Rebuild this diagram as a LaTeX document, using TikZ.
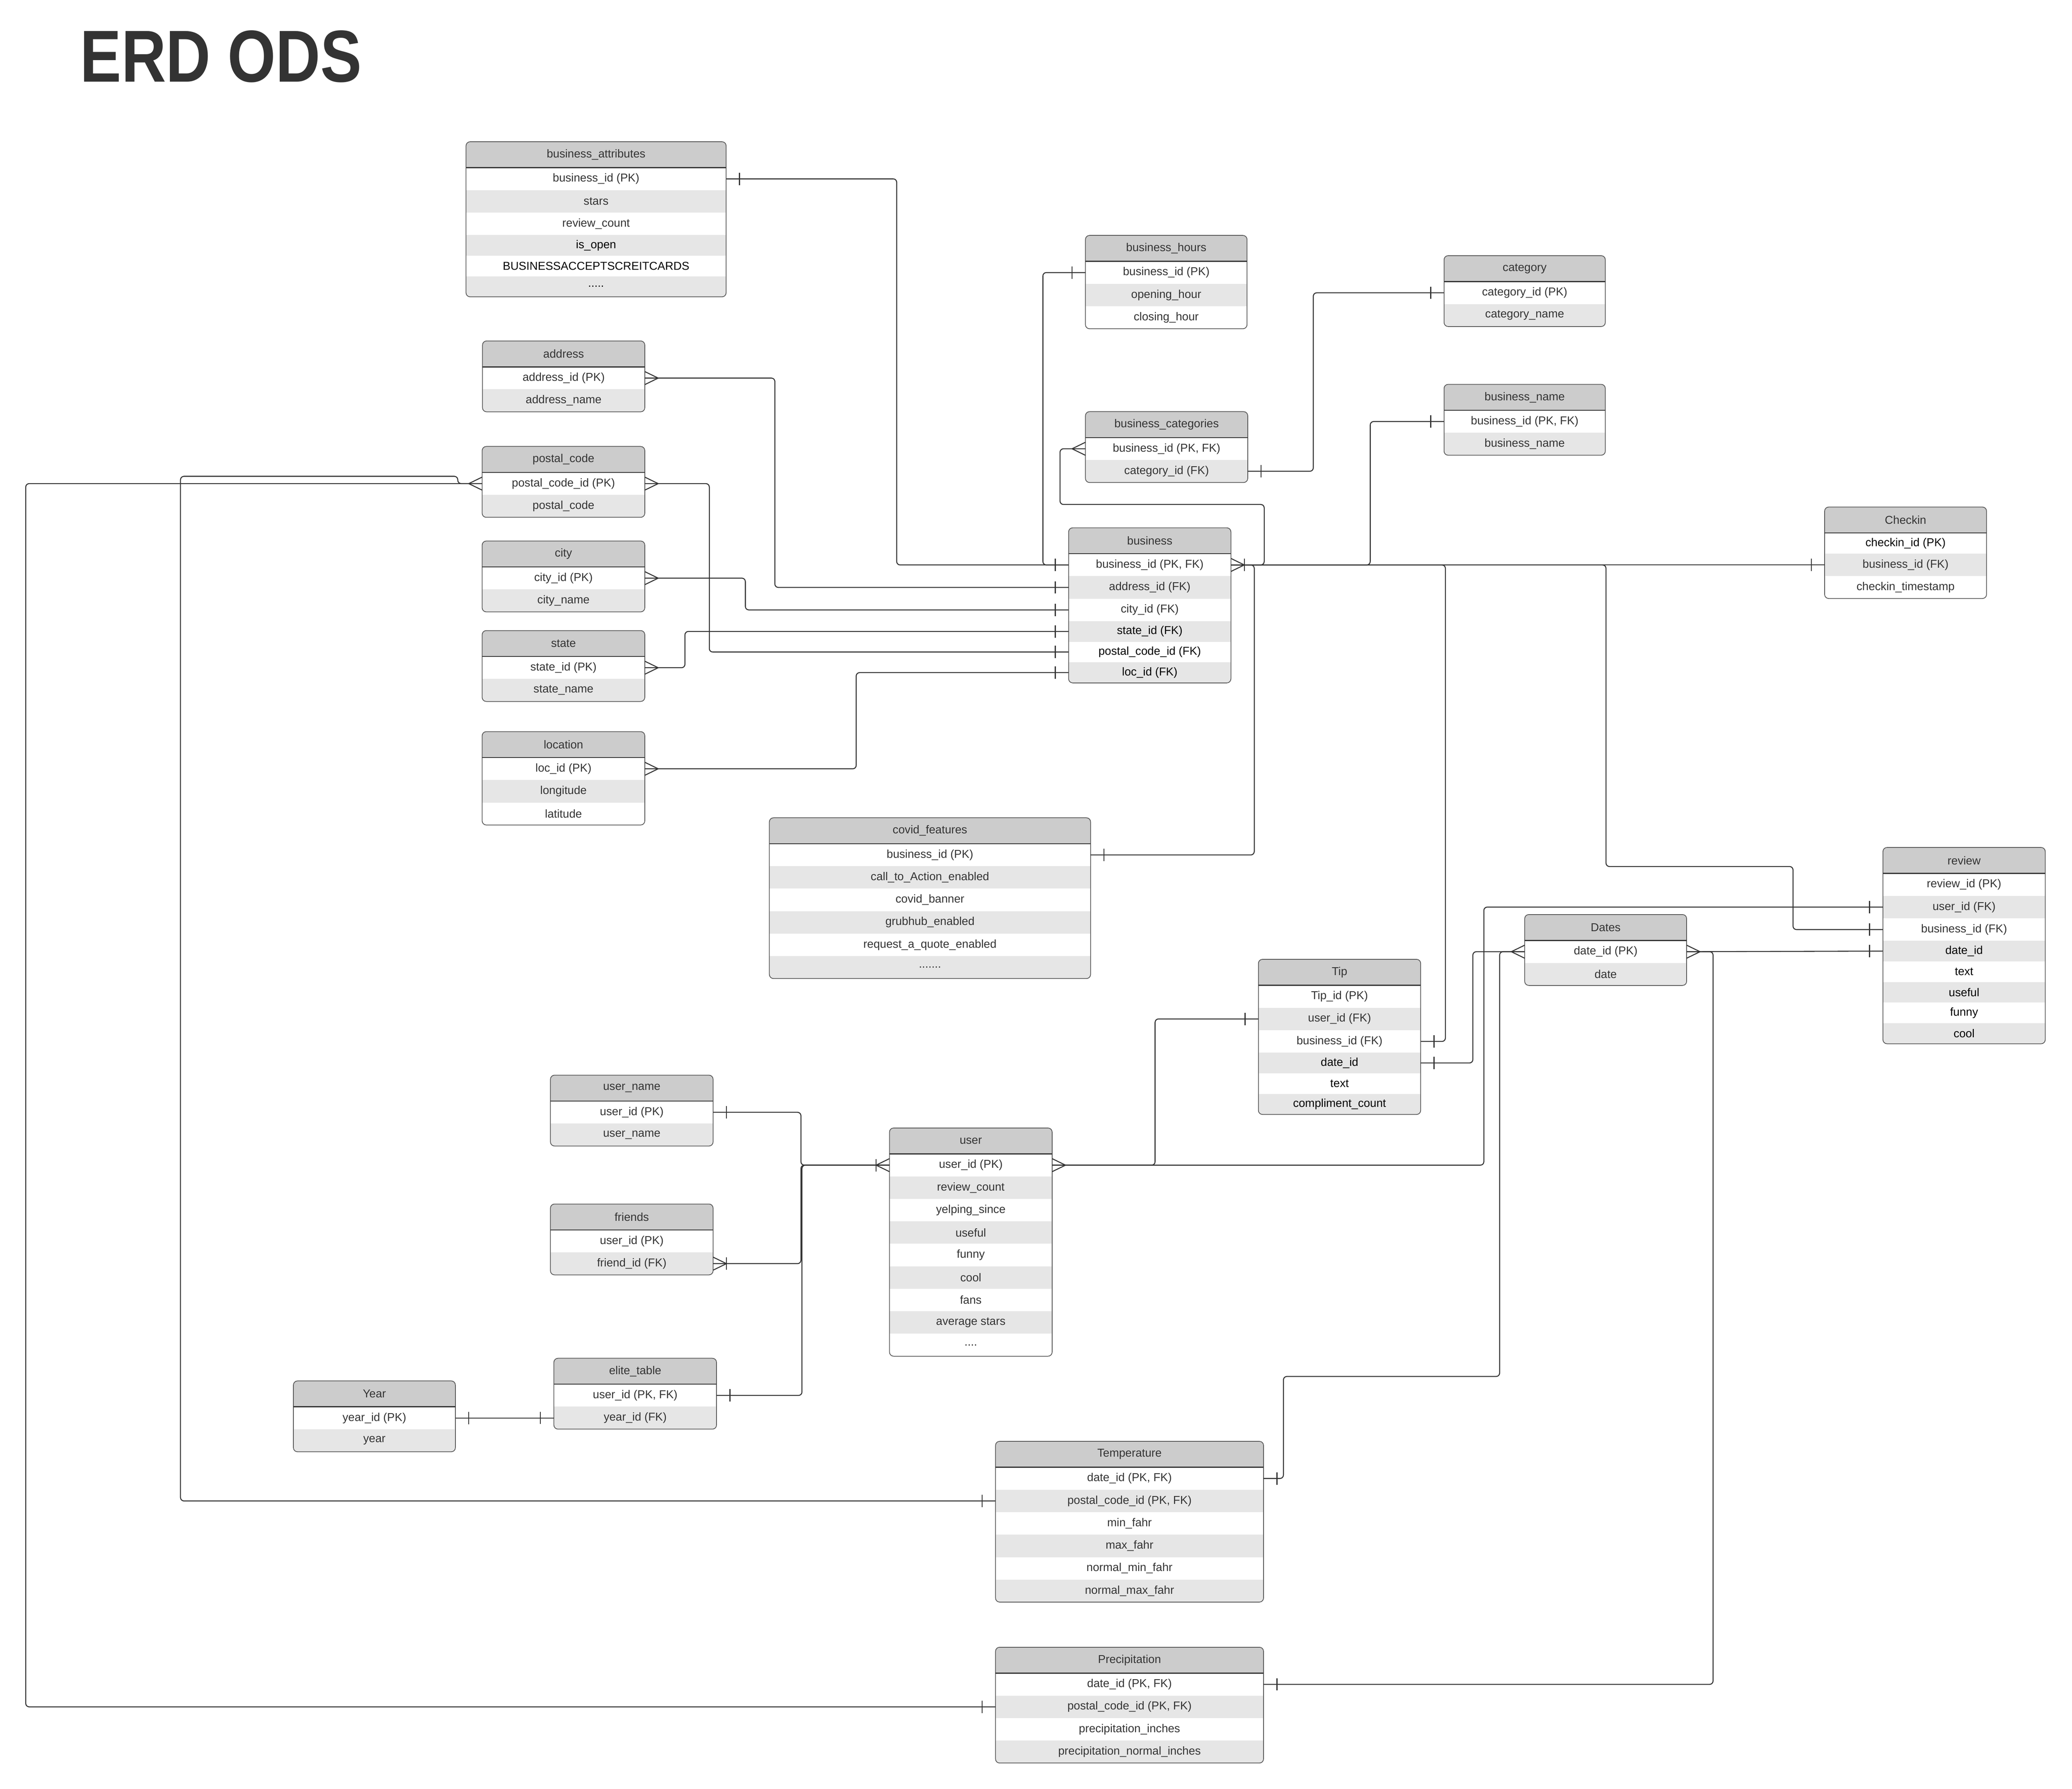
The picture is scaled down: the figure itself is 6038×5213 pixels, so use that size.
\documentclass[tikz,border=0pt]{standalone}
\usepackage{fontspec}
\setmainfont{Liberation Sans}
\usetikzlibrary{positioning}
\usetikzlibrary{calc}
\definecolor{headgray}{HTML}{CCCCCC}
\definecolor{rowgray}{HTML}{E6E6E6}
\definecolor{inkgray}{HTML}{333333}
\definecolor{framegray}{HTML}{555555}
\pgfdeclarelayer{tablefill}
\pgfsetlayers{tablefill,main}
\def\px{0.1mm}
\newcommand{\fourdots}{....}
\newcommand{\fivedots}{.....}
\newcommand{\sevendots}{.......}
\tikzset{
	erdhead/.style={anchor=north west, minimum width=#1*\px, minimum height=7.55mm, inner sep=0pt, outer sep=0pt, text=inkgray, font=\fontsize{9.5}{11}\selectfont},
	erdrow/.style={minimum width=#1*\px, minimum height=\rowh, inner sep=0pt, outer sep=0pt, text=\rowc, font=\fontsize{9.5}{11}\selectfont},
	erdframe/.style={draw=framegray, line width=0.6pt, rounded corners=1.2mm},
	erdsep/.style={draw=inkgray, line width=0.9pt},
	erdline/.style={draw=inkgray, line width=0.8pt, rounded corners=1mm},
	erdmark/.style={draw=inkgray, line width=0.8pt},
}
\newcommand{\erdtable}[6]{%
	\node[erdhead=#4] (#1) at (#2,#3) {#5};
	\foreach \txt/\kind [count=\i, remember=\i as \j (initially 0)] in {#6}{
		\if k\kind\def\rowh{6mm}\def\rowc{black}\else\def\rowh{6.55mm}\def\rowc{inkgray}\fi
		\ifnum\j=0\def\prev{#1}\else\def\prev{#1-\j}\fi
		\node[erdrow=#4, below=0pt of \prev] (#1-\i) {\txt};
		\xdef\lastrow{\i}
	}
	\begin{pgfonlayer}{tablefill}
		\begin{scope}
			\clip[rounded corners=1.2mm] (#1.north west) rectangle (#1-\lastrow.south east);
			\fill[headgray] (#1.north west) rectangle (#1.south east);
			\foreach \i in {1,...,\lastrow}{
				\ifodd\i\else\fill[rowgray] (#1-\i.north west) rectangle (#1-\i.south east);\fi
			}
		\end{scope}
	\end{pgfonlayer}
	\draw[erdframe] (#1.north west) rectangle (#1-\lastrow.south east);
	\draw[erdsep] (#1.south west) -- (#1.south east);
}
\newcommand{\cardone}[2]{\draw[erdmark] ($(#1)+({#2*39},-18)$) -- ($(#1)+({#2*39},18)$);}
\newcommand{\cardmany}[2]{\draw[erdmark] ($(#1)+(0,-19)$) -- ($(#1)+({#2*39},0)$) -- ($(#1)+(0,19)$);}
\begin{document}
\begin{tikzpicture}[x=\px, y=-\px]
	\begin{pgfonlayer}{tablefill}
		\fill[white] (0,0) rectangle (6038,5213);
	\end{pgfonlayer}
	\useasboundingbox (0,0) rectangle (6038,5213);
	\node[anchor=base, text=inkgray, font=\fontsize{61}{70}\selectfont\bfseries] (title) at (644,239) {\scalebox{0.84}[1]{ERD ODS}};

	\erdtable{batt}{1358}{413}{758}{business\_attributes}{business\_id (PK)/r, stars/r, review\_count/r, is\_open/k, BUSINESSACCEPTSCREITCARDS/k, \fivedots/k}
	\erdtable{addr}{1406}{993.5}{473}{address}{address\_id (PK)/r, address\_name/r}
	\erdtable{postal}{1405}{1301}{474}{postal\_code}{postal\_code\_id (PK)/r, postal\_code/r}
	\erdtable{city}{1405}{1576.5}{474}{city}{city\_id (PK)/r, city\_name/r}
	\erdtable{state}{1405}{1837.5}{474}{state}{state\_id (PK)/r, state\_name/r}
	\erdtable{loc}{1405}{2132}{474}{location}{loc\_id (PK)/r, longitude/r, latitude/r}
	\erdtable{bhours}{3163}{686}{471}{business\_hours}{business\_id (PK)/r, opening\_hour/r, closing\_hour/r}
	\erdtable{bcat}{3163}{1199.5}{473}{business\_categories}{{business\_id (PK, FK)}/r, category\_id (FK)/r}
	\erdtable{cat}{4208}{745}{470}{category}{category\_id (PK)/r, category\_name/r}
	\erdtable{bname}{4208}{1120}{470}{business\_name}{{business\_id (PK, FK)}/r, business\_name/r}
	\erdtable{bus}{3114}{1538}{473}{business}{{business\_id (PK, FK)}/r, address\_id (FK)/r, city\_id (FK)/r, state\_id (FK)/k, postal\_code\_id (FK)/k, loc\_id (FK)/k}
	\erdtable{checkin}{5317}{1477.5}{472}{Checkin}{checkin\_id (PK)/k, business\_id (FK)/r, checkin\_timestamp/r}
	\erdtable{covid}{2242}{2383}{936}{covid\_features}{business\_id (PK)/r, call\_to\_Action\_enabled/r, covid\_banner/r, grubhub\_enabled/r, request\_a\_quote\_enabled/r, \sevendots/r}
	\erdtable{review}{5487}{2469.5}{473}{review}{review\_id (PK)/r, user\_id (FK)/r, business\_id (FK)/r, date\_id/k, text/k, useful/k, funny/k, cool/k}
	\erdtable{dates}{4443}{2665}{472}{Dates}{date\_id (PK)/r, date/r}
	\erdtable{tip}{3667}{2795.5}{473}{Tip}{Tip\_id (PK)/r, user\_id (FK)/r, business\_id (FK)/r, date\_id/k, text/k, compliment\_count/k}
	\erdtable{uname}{1604}{3133}{474}{user\_name}{user\_id (PK)/r, user\_name/r}
	\erdtable{friends}{1604}{3508.5}{474}{friends}{user\_id (PK)/r, friend\_id (FK)/r}
	\erdtable{user}{2592}{3287}{474}{user}{user\_id (PK)/r, review\_count/r, yelping\_since/r, useful/r, funny/r, cool/r, fans/r, average stars/r, \fourdots/r}
	\erdtable{elite}{1614}{3958}{474}{elite\_table}{{user\_id (PK, FK)}/r, year\_id (FK)/r}
	\erdtable{year}{855}{4024}{472}{Year}{year\_id (PK)/r, year/r}
	\erdtable{temp}{2901}{4200}{781}{Temperature}{{date\_id (PK, FK)}/r, {postal\_code\_id (PK, FK)}/r, min\_fahr/r, max\_fahr/r, normal\_min\_fahr/r, normal\_max\_fahr/r}
	\erdtable{precip}{2901}{4800}{781}{Precipitation}{{date\_id (PK, FK)}/r, {postal\_code\_id (PK, FK)}/r, precipitation\_inches/r, precipitation\_normal\_inches/r}

	\draw[erdline] (batt-1.east) -| (2613,0 |- bus-1.west) -- (bus-1.west);
	\draw[erdline] (bhours-1.west) -| (3039,0 |- bus-1.west) -- (bus-1.west);
	\draw[erdline] (addr-1.east) -| (2258,0 |- bus-2.west) -- (bus-2.west);
	\draw[erdline] (city-1.east) -| (2172,0 |- bus-3.west) -- (bus-3.west);
	\draw[erdline] (state-1.east) -| (1996,0 |- bus-4.west) -- (bus-4.west);
	\draw[erdline] (postal-1.east) -| (2067,0 |- bus-5.west) -- (bus-5.west);
	\draw[erdline] (loc-1.east) -| (2495,0 |- bus-6.west) -- (bus-6.west);
	\draw[erdline] (bus-1.east) -| (3684,1470) -| (3089,0 |- bcat-1.west) -- (bcat-1.west);
	\draw[erdline] (bus-1.east) -| (3655,0 |- covid-1.east) -- (covid-1.east);
	\draw[erdline] (bus-1.east) -| (3993,0 |- bname-1.west) -- (bname-1.west);
	\draw[erdline] (bus-1.east) -- (bus-1.east -| checkin-2.west);
	\draw[erdline] (bus-1.east) -| (4212,0 |- tip-3.east) -- (tip-3.east);
	\draw[erdline] (bus-1.east) -| (4680,2525) -| (5225,0 |- review-3.west) -- (review-3.west);
	\draw[erdline] (cat-1.west) -| (3827,0 |- bcat-2.east) -- (bcat-2.east);
	\draw[erdline] (user-1.west) -| (2334,0 |- uname-1.east) -- (uname-1.east);
	\draw[erdline] (user-1.west) -| (2334,0 |- friends-2.east) -- (friends-2.east);
	\draw[erdline] (user-1.west) -| (2337,0 |- elite-1.east) -- (elite-1.east);
	\draw[erdline] (user-1.east) -| (3366,0 |- tip-2.west) -- (tip-2.west);
	\draw[erdline] (user-1.east) -| (4324,0 |- review-2.west) -- (review-2.west);
	\draw[erdline] (year-1.east) -- (year-1.east -| elite-2.west);
	\draw[erdline] (dates-1.west) -| (4292,0 |- tip-4.east) -- (tip-4.east);
	\draw[erdline] (dates-1.west) -| (4370,4011) -| (3740,0 |- temp-1.east) -- (temp-1.east);
	\draw[erdline] (dates-1.east) -- (review-4.west);
	\draw[erdline] (dates-1.east) -| (4992,0 |- precip-1.east) -- (precip-1.east);
	\draw[erdline] (postal-1.west) -| (1334,1388) -| (526,0 |- temp-2.west) -- (temp-2.west);
	\draw[erdline] (postal-1.west) -| (75,0 |- precip-2.west) -- (precip-2.west);

	\cardone{batt-1.east}{1}
	\foreach \r in {1,...,6}{\cardone{bus-\r.west}{-1}}
	\cardone{bhours-1.west}{-1}
	\foreach \tab in {addr,postal,city,state,loc}{\cardmany{\tab-1.east}{1}}
	\cardmany{bus-1.east}{1}
	\cardone{bus-1.east}{1}
	\cardmany{bcat-1.west}{-1}
	\cardone{bcat-2.east}{1}
	\cardone{cat-1.west}{-1}
	\cardone{bname-1.west}{-1}
	\cardone{checkin-2.west}{-1}
	\cardone{covid-1.east}{1}
	\cardone{tip-2.west}{-1}
	\cardone{tip-3.east}{1}
	\cardone{tip-4.east}{1}
	\foreach \r in {2,3,4}{\cardone{review-\r.west}{-1}}
	\cardmany{dates-1.west}{-1}
	\cardmany{dates-1.east}{1}
	\cardone{temp-1.east}{1}
	\cardone{precip-1.east}{1}
	\cardone{temp-2.west}{-1}
	\cardone{precip-2.west}{-1}
	\cardmany{postal-1.west}{-1}
	\cardmany{user-1.west}{-1}
	\cardone{user-1.west}{-1}
	\cardmany{user-1.east}{1}
	\cardone{uname-1.east}{1}
	\cardmany{friends-2.east}{1}
	\cardone{friends-2.east}{1}
	\cardone{elite-1.east}{1}
	\cardone{elite-2.west}{-1}
	\cardone{year-1.east}{1}
\end{tikzpicture}
\end{document}
